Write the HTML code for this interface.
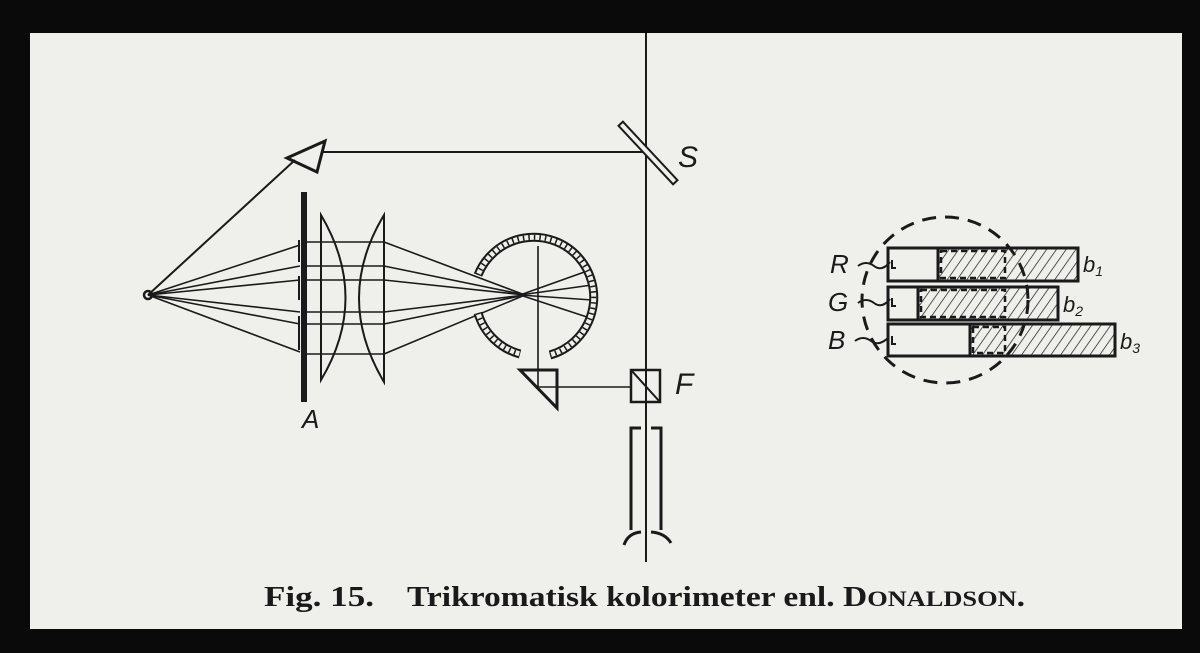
<!DOCTYPE html>
<html><head><style>
html,body{margin:0;padding:0;background:#000;}
body{width:1200px;height:653px;overflow:hidden;position:relative;}
</style></head><body>
<svg width="1200" height="653" viewBox="0 0 1200 653" xmlns="http://www.w3.org/2000/svg" style="position:absolute;left:0;top:0">
<defs>
<pattern id="h" patternUnits="userSpaceOnUse" width="8" height="8" patternTransform="rotate(35)">
<line x1="0" y1="0" x2="0" y2="8" stroke="#222" stroke-width="1.5"/>
</pattern>
</defs>
<rect x="0" y="0" width="1200" height="653" fill="#0a0a0a"/>
<rect x="30" y="33" width="1152" height="596" fill="#efefeb"/>
<g stroke="#1a1a1a" fill="none" stroke-width="2">
<line x1="646" y1="33" x2="646" y2="562"/>
<line x1="300" y1="152" x2="646" y2="152"/>
<g transform="translate(648,153) rotate(47)"><rect x="-40" y="-3" width="80" height="6" fill="#efefeb" stroke-width="2"/></g>
<polygon points="287,158 325,141 317,172" fill="#efefeb" stroke-width="3"/>
<circle cx="148" cy="295" r="4" stroke-width="2.5"/>
<line x1="148" y1="295" x2="295" y2="160"/>
<g stroke-width="1.6">
<line x1="148" y1="295" x2="300" y2="245"/>
<line x1="148" y1="295" x2="300" y2="266"/>
<line x1="148" y1="295" x2="300" y2="280"/>
<line x1="148" y1="295" x2="300" y2="312"/>
<line x1="148" y1="295" x2="300" y2="324"/>
<line x1="148" y1="295" x2="300" y2="352"/>
<line x1="303" y1="242" x2="384" y2="242"/>
<line x1="303" y1="266" x2="384" y2="266"/>
<line x1="303" y1="280" x2="384" y2="280"/>
<line x1="303" y1="312" x2="384" y2="312"/>
<line x1="303" y1="324" x2="384" y2="324"/>
<line x1="303" y1="354" x2="384" y2="354"/>
<line x1="384" y1="242" x2="525" y2="295"/>
<line x1="384" y1="266" x2="525" y2="295"/>
<line x1="384" y1="280" x2="525" y2="295"/>
<line x1="384" y1="312" x2="525" y2="295"/>
<line x1="384" y1="324" x2="525" y2="295"/>
<line x1="384" y1="354" x2="525" y2="295"/>
<line x1="520" y1="295" x2="590" y2="270"/>
<line x1="520" y1="295" x2="592" y2="285"/>
<line x1="520" y1="295" x2="592" y2="300"/>
<line x1="520" y1="295" x2="590" y2="318"/>
</g>
<g stroke-width="2">
<line x1="299" y1="240" x2="299" y2="262"/>
<line x1="299" y1="276" x2="299" y2="300"/>
<line x1="299" y1="316" x2="299" y2="350"/>
</g>
<line x1="304" y1="192" x2="304" y2="402" stroke-width="6"/>
<path d="M321,215 L321,380 Q370,298 321,215 Z" stroke-width="2"/>
<path d="M384,215 L384,382 Q334,298 384,215 Z" stroke-width="2"/>
<!-- mirror circle: double line with hatch -->
<path d="M478,275 A60,60 0 1 1 550,355" stroke-width="9" stroke="#1a1a1a"/>
<path d="M478,275 A60,60 0 1 1 550,355" stroke-width="5" stroke="#efefeb"/>
<path d="M478,275 A60,60 0 1 1 550,355" stroke-width="5" stroke="#1a1a1a" stroke-dasharray="1.5,4"/>
<path d="M478,313 A60,60 0 0 0 520,354" stroke-width="9" stroke="#1a1a1a"/>
<path d="M478,313 A60,60 0 0 0 520,354" stroke-width="5" stroke="#efefeb"/>
<path d="M478,313 A60,60 0 0 0 520,354" stroke-width="5" stroke="#1a1a1a" stroke-dasharray="1.5,4"/>
<line x1="538" y1="246" x2="538" y2="388" stroke-width="1.6"/>
<polygon points="520,370 557,370 557,408" stroke-width="3"/>
<line x1="538" y1="387" x2="632" y2="387" stroke-width="1.6"/>
<rect x="631" y="370" width="29" height="32" stroke-width="2.5"/>
<line x1="631" y1="370" x2="660" y2="402" stroke-width="2"/>
<path d="M641,428 L631,428 L631,530 M624,545 Q628,533 641,532" stroke-width="3"/>
<path d="M651,428 L661,428 L661,530 M671,543 Q665,533 651,532" stroke-width="3"/>
<circle cx="945" cy="300" r="83" stroke-width="3" stroke-dasharray="14,9"/>
<rect x="938" y="248" width="140" height="33" fill="url(#h)" stroke-width="3"/>
<rect x="888" y="248" width="50" height="33" stroke-width="3"/>
<rect x="918" y="287" width="140" height="33" fill="url(#h)" stroke-width="3"/>
<rect x="888" y="287" width="30" height="33" stroke-width="3"/>
<rect x="970" y="324" width="145" height="32" fill="url(#h)" stroke-width="3"/>
<rect x="888" y="324" width="82" height="32" stroke-width="3"/>
<g stroke-dasharray="6,4" stroke-width="2.5">
<rect x="941" y="251" width="64" height="27"/>
<rect x="921" y="290" width="84" height="27"/>
<rect x="973" y="327" width="32" height="26"/>
</g>
<g stroke-width="2">
<path d="M858,266 q8,-6 16,0 t16,-4"/>
<path d="M858,303 q8,-6 16,0 t16,-4"/>
<path d="M855,341 q8,-6 16,0 t18,-4"/>
<path d="M892,260 v8 h4 M892,298 v8 h4 M892,336 v8 h4"/>
</g>
</g>
<g font-family="Liberation Sans, sans-serif" font-style="italic" fill="#1a1a1a" font-size="30">
<text x="678" y="167">S</text>
<text x="302" y="428" font-size="26">A</text>
<text x="675" y="394">F</text>
<text x="830" y="273" font-size="26">R</text>
<text x="828" y="311" font-size="26">G</text>
<text x="828" y="349" font-size="26">B</text>
<text x="1083" y="272" font-size="22">b<tspan font-size="14" dy="4">1</tspan></text>
<text x="1063" y="312" font-size="22">b<tspan font-size="14" dy="4">2</tspan></text>
<text x="1120" y="349" font-size="22">b<tspan font-size="14" dy="4">3</tspan></text>
</g>
<g font-family="Liberation Serif, serif" font-weight="bold" font-size="28" fill="#1a1a1a">
<text x="264" y="606" textLength="110" lengthAdjust="spacingAndGlyphs">Fig. 15.</text>
<text x="407" y="606" textLength="618" lengthAdjust="spacingAndGlyphs">Trikromatisk kolorimeter enl. D<tspan font-size="22">ONALDSON</tspan>.</text>
</g>
</svg>
</body></html>
